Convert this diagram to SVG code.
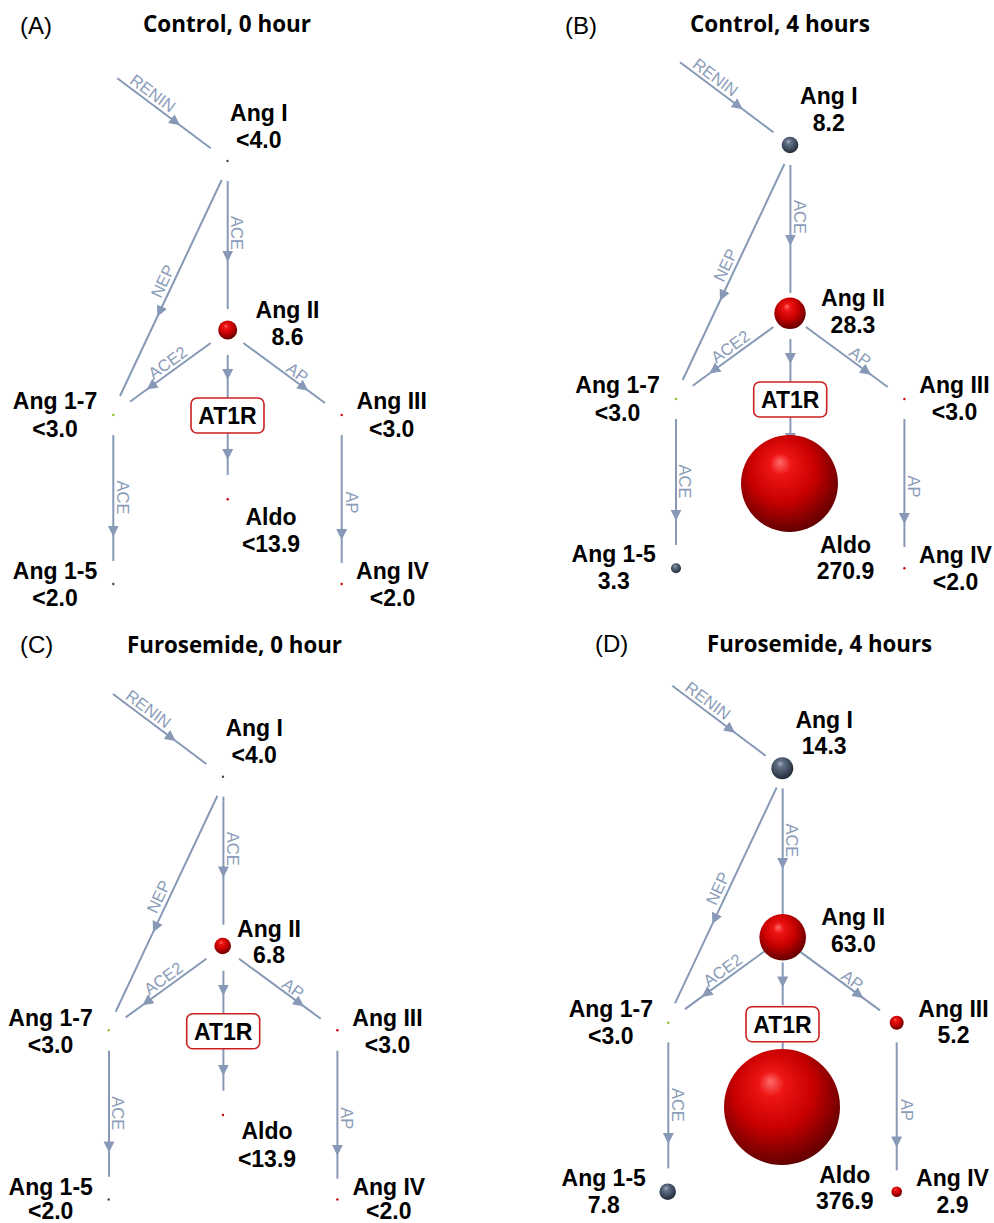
<svg xmlns="http://www.w3.org/2000/svg" xmlns:xlink="http://www.w3.org/1999/xlink" width="994" height="1223" viewBox="0 0 994 1223">
<style>
.ln{fill:none;stroke:#8799b6;stroke-width:2;marker-mid:url(#arr)}
.el{font-family:"Liberation Sans",Arial,sans-serif;font-size:16.5px;fill:#8a9cb8;text-anchor:middle;dominant-baseline:central}
.lb{font-family:"Liberation Sans",Arial,sans-serif;font-size:23px;font-weight:bold;fill:#000;text-anchor:middle}
.pl{font-family:"Liberation Sans",Arial,sans-serif;font-size:24px;fill:#000}
.tt{font-family:"Open Sans","Liberation Sans",sans-serif;font-size:23px;font-weight:bold;fill:#000}
.box{fill:#fff;stroke:#cc1f1f;stroke-width:1.6}
.red{fill:url(#gRed)}
.dark{fill:url(#gDark)}
.tr{fill:#cc0000}
.tg{fill:#8cbf26}
.td{fill:#3a4656}
</style>
<defs>
<radialGradient id="gRed" cx="0.45" cy="0.4" r="0.62" fx="0.4" fy="0.28">
<stop offset="0" stop-color="#ff6a6a"/>
<stop offset="0.18" stop-color="#ee1414"/>
<stop offset="0.55" stop-color="#c80000"/>
<stop offset="0.88" stop-color="#7a0000"/>
<stop offset="1" stop-color="#5e0000"/>
</radialGradient>
<radialGradient id="gDark" cx="0.45" cy="0.4" r="0.62" fx="0.4" fy="0.28">
<stop offset="0" stop-color="#a2b0c2"/>
<stop offset="0.25" stop-color="#627186"/>
<stop offset="0.65" stop-color="#3f4b5d"/>
<stop offset="1" stop-color="#1e2632"/>
</radialGradient>
<marker id="arr" viewBox="0 0 12 12" refX="11" refY="6" markerWidth="12" markerHeight="12" markerUnits="userSpaceOnUse" orient="auto">
<path d="M0,0.5 L11,6 L0,11.5 Z" fill="#8799b6"/>
</marker>
<g id="conn">
<polyline class="ln" points="117.3,78.3 180,125.3 210.7,148.3"/>
<polyline class="ln" points="227.7,181 227.7,261.7 227.7,309"/>
<polyline class="ln" points="221.7,180 157.3,316.7 120,396"/>
<polyline class="ln" points="210.7,343 146.7,389.5 130,401.7"/>
<polyline class="ln" points="243.3,343 308.3,390.7 325,403"/>
<polyline class="ln" points="227.7,355 227.7,380 227.7,398"/>
<polyline class="ln" points="227.7,433 227.7,460 227.7,475"/>
<polyline class="ln" points="113.3,435 113.3,536.7 113.3,561"/>
<polyline class="ln" points="341.7,435 341.7,540 341.7,563"/>
<text class="el" transform="translate(153,93) rotate(36.9)">RENIN</text>
<text class="el" transform="translate(237,233) rotate(90)">ACE</text>
<text class="el" transform="translate(162.5,281) rotate(-64.8)">NEP</text>
<text class="el" transform="translate(167.5,362.5) rotate(-36)">ACE2</text>
<text class="el" transform="translate(297.5,372.5) rotate(36.3)">AP</text>
<text class="el" transform="translate(122.5,497.5) rotate(90)">ACE</text>
<text class="el" transform="translate(351.7,502.5) rotate(90)">AP</text>
</g>
</defs>
<rect width="994" height="1223" fill="#fff"/>

<!-- Panel A -->
<g id="panel-A">
<text class="pl" x="20" y="34">(A)</text>
<text class="tt" x="143" y="31.7" textLength="168" lengthAdjust="spacingAndGlyphs">Control, 0 hour</text>
<g id="A-connectors"><use href="#conn"/></g>
<g id="A-angI"><circle class="td" cx="227.5" cy="161" r="1.2"/><text class="lb"><tspan x="258.8" y="120.7">Ang I</tspan><tspan x="258.8" y="147.7">&lt;4.0</tspan></text></g>
<g id="A-angII"><circle class="red" cx="227.7" cy="330" r="9.5"/><text class="lb"><tspan x="287.5" y="318.3">Ang II</tspan><tspan x="287.5" y="345">8.6</tspan></text></g>
<g id="A-at1r"><rect class="box" x="191" y="398" width="73" height="35" rx="6"/><text class="lb" x="227.5" y="424">AT1R</text></g>
<g id="A-ang17"><circle class="tg" cx="113.3" cy="415" r="1.2"/><text class="lb"><tspan x="55" y="409">Ang 1-7</tspan><tspan x="55" y="436.7">&lt;3.0</tspan></text></g>
<g id="A-angIII"><circle class="tr" cx="341.7" cy="415" r="1.2"/><text class="lb"><tspan x="391.7" y="409">Ang III</tspan><tspan x="391.7" y="436.7">&lt;3.0</tspan></text></g>
<g id="A-aldo"><circle class="tr" cx="227.7" cy="499.3" r="1.2"/><text class="lb"><tspan x="271" y="525">Aldo</tspan><tspan x="271" y="551.7">&lt;13.9</tspan></text></g>
<g id="A-ang15"><circle class="td" cx="113.3" cy="584" r="1.2"/><text class="lb"><tspan x="55" y="579">Ang 1-5</tspan><tspan x="55" y="606">&lt;2.0</tspan></text></g>
<g id="A-angIV"><circle class="tr" cx="341.7" cy="584" r="1.2"/><text class="lb"><tspan x="392.5" y="579">Ang IV</tspan><tspan x="392.5" y="606">&lt;2.0</tspan></text></g>
</g>

<!-- Panel B -->
<g id="panel-B">
<text class="pl" x="565" y="34">(B)</text>
<text class="tt" x="690" y="32" textLength="180" lengthAdjust="spacingAndGlyphs">Control, 4 hours</text>
<g id="B-connectors"><use href="#conn" transform="translate(562.7,-16)"/></g>
<g id="B-angI"><circle class="dark" cx="790" cy="145" r="8.3"/><text class="lb"><tspan x="828.8" y="104">Ang I</tspan><tspan x="828.8" y="131">8.2</tspan></text></g>
<g id="B-angII"><circle class="red" cx="790" cy="313.3" r="15.7"/><text class="lb"><tspan x="853" y="306.3">Ang II</tspan><tspan x="853" y="332.7">28.3</tspan></text></g>
<g id="B-at1r"><rect class="box" x="753.7" y="382" width="73" height="35" rx="6"/><text class="lb" x="790.2" y="408">AT1R</text></g>
<g id="B-ang17"><circle class="tg" cx="676" cy="399" r="1.2"/><text class="lb"><tspan x="617.5" y="393.3">Ang 1-7</tspan><tspan x="617.5" y="420.7">&lt;3.0</tspan></text></g>
<g id="B-angIII"><circle class="tr" cx="904.4" cy="399" r="1.2"/><text class="lb"><tspan x="954.5" y="393">Ang III</tspan><tspan x="954.5" y="420.3">&lt;3.0</tspan></text></g>
<g id="B-aldo"><circle class="red" cx="789.5" cy="483.5" r="48.5"/><text class="lb"><tspan x="845.5" y="552.5">Aldo</tspan><tspan x="845.5" y="579">270.9</tspan></text></g>
<g id="B-ang15"><circle class="dark" cx="676" cy="568.3" r="5"/><text class="lb"><tspan x="613.7" y="562.3">Ang 1-5</tspan><tspan x="613.7" y="589.3">3.3</tspan></text></g>
<g id="B-angIV"><circle class="tr" cx="904.4" cy="568.3" r="1.2"/><text class="lb"><tspan x="955.5" y="563">Ang IV</tspan><tspan x="955.5" y="590">&lt;2.0</tspan></text></g>
</g>

<!-- Panel C -->
<g id="panel-C">
<text class="pl" x="20" y="653">(C)</text>
<text class="tt" x="127" y="653" textLength="215" lengthAdjust="spacingAndGlyphs">Furosemide, 0 hour</text>
<g id="C-connectors"><use href="#conn" transform="translate(-4.3,615.7)"/></g>
<g id="C-angI"><circle class="td" cx="223" cy="776.7" r="1.2"/><text class="lb"><tspan x="254.2" y="736">Ang I</tspan><tspan x="254.2" y="763">&lt;4.0</tspan></text></g>
<g id="C-angII"><circle class="red" cx="222.7" cy="946" r="8.3"/><text class="lb"><tspan x="269" y="936.7">Ang II</tspan><tspan x="269" y="963.3">6.8</tspan></text></g>
<g id="C-at1r"><rect class="box" x="186.7" y="1013.7" width="73" height="35" rx="6"/><text class="lb" x="223.2" y="1039.7">AT1R</text></g>
<g id="C-ang17"><circle class="tg" cx="108.7" cy="1030.3" r="1.2"/><text class="lb"><tspan x="50.5" y="1026">Ang 1-7</tspan><tspan x="50.5" y="1052.7">&lt;3.0</tspan></text></g>
<g id="C-angIII"><circle class="tr" cx="337.4" cy="1030.3" r="1.2"/><text class="lb"><tspan x="387.5" y="1026">Ang III</tspan><tspan x="387.5" y="1052.7">&lt;3.0</tspan></text></g>
<g id="C-aldo"><circle class="tr" cx="223" cy="1115" r="1.2"/><text class="lb"><tspan x="267" y="1139.3">Aldo</tspan><tspan x="267" y="1166.7">&lt;13.9</tspan></text></g>
<g id="C-ang15"><circle class="td" cx="108.7" cy="1199.5" r="1.2"/><text class="lb"><tspan x="50.7" y="1195">Ang 1-5</tspan><tspan x="50.7" y="1219">&lt;2.0</tspan></text></g>
<g id="C-angIV"><circle class="tr" cx="337.4" cy="1199.5" r="1.2"/><text class="lb"><tspan x="388.8" y="1195">Ang IV</tspan><tspan x="388.8" y="1219">&lt;2.0</tspan></text></g>
</g>

<!-- Panel D -->
<g id="panel-D">
<text class="pl" x="595" y="652">(D)</text>
<text class="tt" x="707" y="652" textLength="225" lengthAdjust="spacingAndGlyphs">Furosemide, 4 hours</text>
<g id="D-connectors"><use href="#conn" transform="translate(555,607.4)"/></g>
<g id="D-angI"><circle class="dark" cx="782.3" cy="768.3" r="11"/><text class="lb"><tspan x="824.2" y="727.7">Ang I</tspan><tspan x="824.2" y="754">14.3</tspan></text></g>
<g id="D-angII"><circle class="red" cx="782.7" cy="937.3" r="23.3"/><text class="lb"><tspan x="853.3" y="925">Ang II</tspan><tspan x="853.3" y="951.7">63.0</tspan></text></g>
<g id="D-at1r"><rect class="box" x="746" y="1006.7" width="73" height="35" rx="6"/><text class="lb" x="782.5" y="1032.7">AT1R</text></g>
<g id="D-ang17"><circle class="tg" cx="668.3" cy="1022.7" r="1.2"/><text class="lb"><tspan x="610.8" y="1016.7">Ang 1-7</tspan><tspan x="610.8" y="1044">&lt;3.0</tspan></text></g>
<g id="D-angIII"><circle class="red" cx="896.7" cy="1022.7" r="7"/><text class="lb"><tspan x="953.5" y="1016.7">Ang III</tspan><tspan x="953.5" y="1043.3">5.2</tspan></text></g>
<g id="D-aldo"><circle class="red" cx="782" cy="1107" r="58"/><text class="lb"><tspan x="844.7" y="1182.7">Aldo</tspan><tspan x="844.7" y="1209.3">376.9</tspan></text></g>
<g id="D-ang15"><circle class="dark" cx="667.7" cy="1191.7" r="8.3"/><text class="lb"><tspan x="603.7" y="1186">Ang 1-5</tspan><tspan x="603.7" y="1212.7">7.8</tspan></text></g>
<g id="D-angIV"><circle class="red" cx="896.7" cy="1191.7" r="5.3"/><text class="lb"><tspan x="952.5" y="1186">Ang IV</tspan><tspan x="952.5" y="1213">2.9</tspan></text></g>
</g>
</svg>
